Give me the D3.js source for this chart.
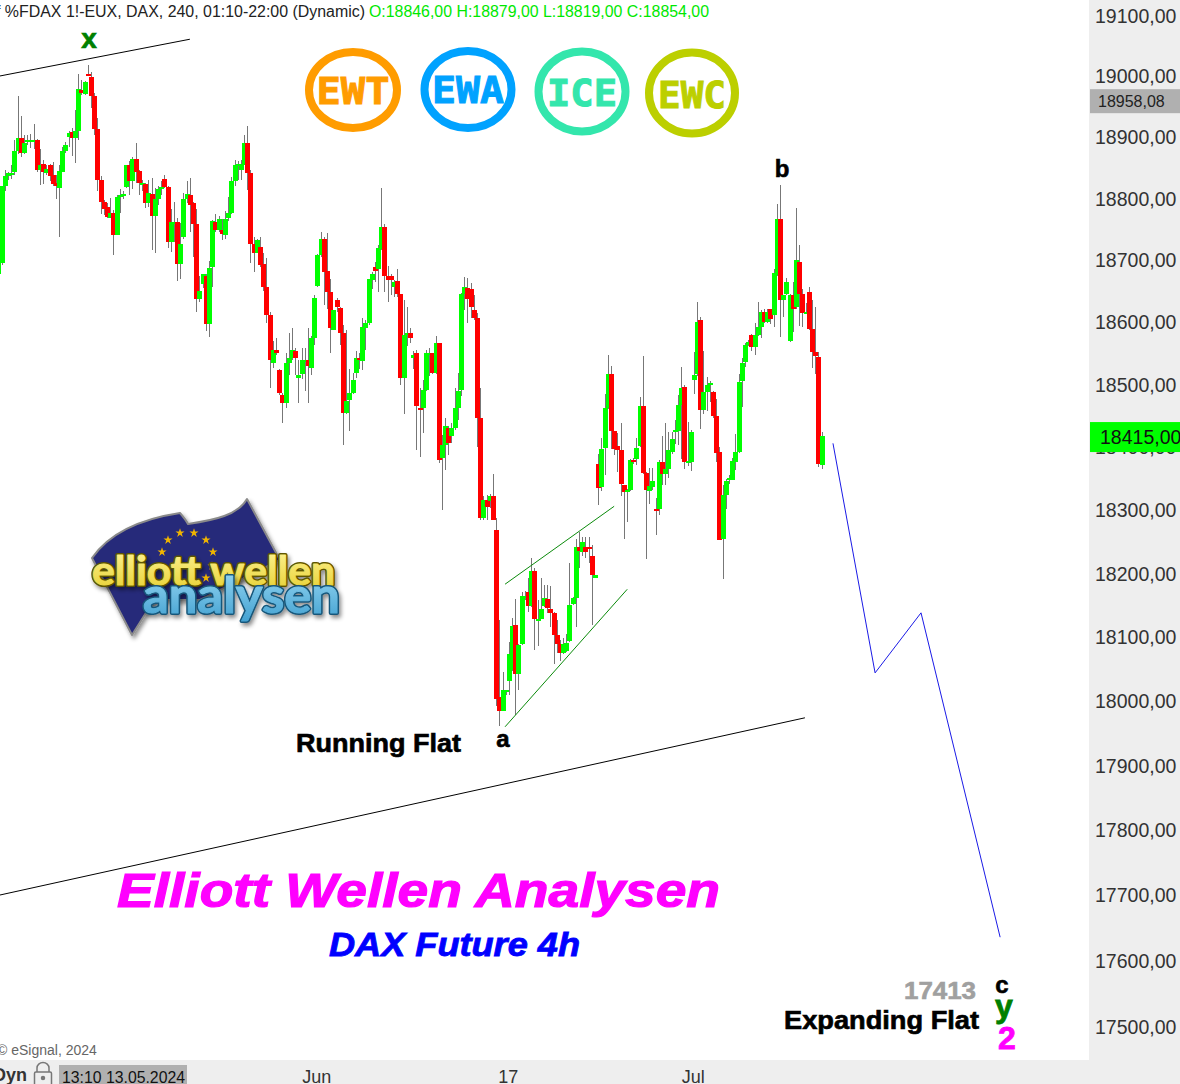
<!DOCTYPE html>
<html>
<head>
<meta charset="utf-8">
<title>DAX Future 4h</title>
<script src="https://cdn.jsdelivr.net/npm/d3@7"></script>
<style>
  html, body { margin: 0; padding: 0; background: #fff; overflow: hidden; }
  svg { display: block; }
  text { font-family: "Liberation Sans", Arial, sans-serif; }
  .bold { font-weight: bold; }
</style>
</head>
<body>
<svg id="chart" width="1180" height="1084"></svg>
<script>
// 4h candles, one column per session, first one is clipped by the left edge
const opens = [18677,
  18695,18819,18835,18838,18843,18876,18898,18874,18891,18891,
  18892,18895,18846,18856,18841,18854,18837,18824,18816,18843,
  18877,18900,18908,18898,18910,18977,18970,19003,18998,18966,
  18912,18829,18794,18786,18768,18776,18740,18802,18804,18818,
  18854,18827,18864,18844,18822,18823,18792,18807,18771,18799,
  18815,18831,18818,18729,18759,18761,18693,18737,18799,18805,
  18792,18758,18637,18660,18674,18596,18688,18761,18748,18748,
  18740,18768,18776,18828,18852,18846,18854,18890,18840,18725,
  18710,18720,18693,18656,18611,18534,18555,18522,18482,18469,
  18534,18541,18552,18510,18515,18536,18538,18526,18573,18657,
  18707,18734,18681,18648,18587,18634,18622,18581,18453,18474,
  18485,18518,18541,18536,18590,18597,18667,18688,18685,18717,
  18752,18673,18673,18656,18665,18645,18509,18578,18582,18542,
  18549,18462,18461,18490,18547,18549,18518,18565,18381,18402,
  18430,18416,18429,18462,18490,18645,18654,18653,18619,18606,
  18445,18287,18315,18314,18322,18267,18005,17984,18013,18030,
  18047,18118,18042,18088,18161,18170,18148,18202,18125,18128,
  18147,18158,18143,18137,18102,18088,18074,18077,18093,18151,
  18161,18240,18233,18240,18240,18226,18192,18372,18336,18398,
  18461,18516,18424,18401,18394,18338,18327,18331,18379,18380,
  18401,18465,18358,18329,18335,18300,18300,18375,18356,18364,
  18391,18423,18425,18466,18495,18374,18375,18506,18516,18602,
  18458,18487,18498,18487,18449,18391,18254,18323,18347,18347,
  18375,18391,18505,18535,18563,18578,18559,18578,18592,18615,
  18599,18620,18610,18675,18765,18635,18645,18568,18643,18623,
  18696,18645,18613,18648,18588,18551,18543,18371];
const highs = [18696,
  18819,18845,18843,18854,18895,18967,18933,18903,18902,18905,
  18920,18896,18880,18862,18853,18856,18859,18838,18853,18883,
  18891,18910,18914,18944,19003,18993,18992,19018,19006,18971,
  18931,18836,18797,18791,18800,18780,18804,18815,18811,18854,
  18860,18867,18889,18846,18830,18824,18830,18833,18816,18819,
  18827,18838,18820,18782,18793,18767,18759,18808,18827,18833,
  18794,18782,18674,18677,18677,18697,18764,18774,18770,18765,
  18778,18801,18834,18862,18860,18862,18902,18917,18846,18737,
  18734,18737,18710,18702,18615,18569,18574,18524,18486,18550,
  18582,18589,18558,18539,18558,18557,18590,18576,18643,18709,
  18745,18736,18743,18668,18619,18638,18624,18595,18586,18523,
  18517,18552,18550,18605,18603,18669,18680,18696,18723,18816,
  18758,18689,18677,18667,18685,18645,18634,18624,18590,18552,
  18554,18494,18506,18555,18557,18550,18576,18566,18419,18446,
  18433,18437,18493,18517,18646,18672,18670,18662,18643,18614,
  18494,18322,18323,18325,18357,18287,18126,18044,18017,18092,
  18129,18159,18088,18170,18171,18191,18224,18207,18157,18191,
  18181,18181,18179,18138,18126,18094,18097,18104,18215,18162,
  18254,18264,18256,18256,18256,18243,18196,18388,18413,18484,
  18546,18529,18425,18422,18437,18339,18333,18380,18382,18414,
  18479,18544,18359,18366,18366,18318,18379,18416,18438,18423,
  18423,18442,18482,18527,18498,18439,18426,18551,18632,18607,
  18552,18511,18505,18489,18476,18399,18338,18348,18354,18381,
  18420,18516,18541,18566,18570,18580,18598,18631,18618,18621,
  18620,18621,18685,18790,18821,18643,18671,18645,18664,18784,
  18723,18653,18630,18656,18635,18624,18551,18423];
const lows = [18670,
  18691,18812,18830,18831,18838,18871,18867,18871,18887,18882,
  18879,18843,18821,18823,18838,18827,18820,18799,18737,18842,
  18873,18883,18868,18857,18894,18969,18969,18999,18947,18903,
  18811,18774,18773,18767,18767,18707,18740,18776,18799,18816,
  18805,18815,18825,18805,18812,18784,18785,18715,18711,18789,
  18805,18816,18718,18713,18729,18665,18669,18734,18792,18745,
  18704,18616,18631,18654,18585,18575,18655,18745,18744,18732,
  18734,18762,18774,18819,18830,18829,18853,18813,18694,18680,
  18710,18688,18650,18598,18493,18525,18547,18482,18437,18461,
  18514,18539,18514,18470,18507,18488,18470,18514,18562,18655,
  18704,18627,18621,18550,18586,18616,18563,18403,18451,18424,
  18483,18510,18523,18522,18554,18595,18653,18664,18647,18715,
  18648,18632,18643,18640,18640,18498,18451,18560,18566,18523,
  18394,18384,18422,18489,18513,18515,18515,18374,18299,18362,
  18387,18406,18427,18442,18481,18619,18598,18606,18603,18399,
  18283,18283,18283,18302,18283,17992,17960,17983,18009,18009,
  18046,17978,18017,18087,18157,18139,18146,18079,18085,18127,
  18146,18136,18115,18057,18074,18061,18072,18076,18091,18150,
  18115,18207,18227,18223,18215,18118,18192,18307,18330,18355,
  18459,18396,18387,18359,18322,18254,18280,18330,18372,18370,
  18399,18357,18222,18308,18331,18260,18292,18338,18338,18350,
  18388,18404,18402,18380,18364,18369,18361,18484,18513,18428,
  18452,18457,18471,18446,18375,18251,18190,18301,18340,18346,
  18363,18390,18463,18527,18561,18552,18546,18577,18574,18597,
  18597,18596,18592,18673,18575,18607,18643,18567,18583,18621,
  18593,18592,18612,18587,18525,18516,18367,18364];
const closes = [18694,
  18819,18836,18840,18841,18876,18898,18874,18890,18895,18895,
  18895,18846,18854,18842,18847,18835,18823,18819,18844,18877,
  18886,18906,18898,18910,18978,18971,18990,19000,18966,18912,
  18829,18794,18782,18769,18775,18740,18802,18805,18806,18853,
  18827,18864,18843,18824,18825,18792,18808,18771,18799,18815,
  18818,18818,18729,18761,18761,18693,18725,18799,18807,18789,
  18758,18637,18650,18676,18596,18686,18762,18748,18766,18741,
  18766,18776,18828,18853,18856,18856,18889,18840,18725,18710,
  18732,18691,18656,18610,18538,18554,18550,18485,18469,18533,
  18542,18554,18541,18514,18538,18538,18528,18574,18638,18707,
  18733,18680,18648,18590,18618,18624,18582,18454,18472,18485,
  18506,18541,18538,18592,18598,18669,18677,18681,18718,18752,
  18673,18667,18667,18664,18645,18510,18578,18582,18574,18546,
  18464,18459,18490,18549,18550,18518,18566,18379,18402,18432,
  18406,18430,18461,18488,18645,18656,18637,18624,18606,18445,
  18287,18315,18304,18322,18284,18002,17984,18016,18016,18072,
  18117,18042,18087,18164,18164,18148,18203,18128,18128,18143,
  18161,18145,18136,18102,18088,18074,18088,18090,18150,18161,
  18240,18235,18249,18232,18237,18196,18196,18334,18396,18461,
  18516,18424,18396,18394,18341,18327,18331,18379,18375,18398,
  18465,18358,18331,18337,18345,18299,18375,18356,18364,18394,
  18412,18426,18466,18493,18375,18377,18423,18514,18600,18458,
  18487,18498,18501,18449,18390,18252,18323,18345,18350,18377,
  18391,18503,18533,18562,18567,18559,18578,18592,18615,18599,
  18615,18604,18679,18765,18635,18643,18664,18643,18621,18699,
  18645,18613,18616,18588,18551,18545,18372,18417];

// price axis and time axis
const priceTicks = [19100,19000,18900,18800,18700,18600,18500,18400,18300,18200,18100,18000,17900,17800,17700,17600,17500];
const timeTickIndex = [99, 159, 217];
const timeTickLabels = ['Jun', '17', 'Jul'];

// drawn trend lines and the projected path, as [session index, price]
const upperTrend = [[-1, 18999], [59, 19060]];
const lowerTrend = [[-1, 17699], [251.8, 17973]];
const channelTop = [[157.8, 18182], [192, 18305]];
const channelBottom = [[157.8, 17959], [196.1, 18174]];
const projection = [[260.6, 18405], [273.8, 18043], [288.2, 18137], [313, 17635]];

const lastPrice = 18415;
const avgPrice = 18958.08;

// badges top centre
const badgeNames = ['EWT', 'EWA', 'ICE', 'EWC'];
const badgeColors = ['#ff9c00', '#00a2ff', '#33e6ac', '#bccf00'];

const width = 1180, height = 1084;
const axisLeft = 1089, footerTop = 1060;

const svg = d3.select('#chart');

const x = d3.scaleLinear().domain([0, 257]).range([1.67, 821.5]);
const y = d3.scaleLog().domain([17500, 19100]).range([1026, 15]);

const candles = d3.range(opens.length).map(function (i) {
    return {i: i - 1, o: opens[i], h: highs[i], l: lows[i], c: closes[i]};
});

const lineGen = d3.line()
    .x(function (d) { return x(d[0]); })
    .y(function (d) { return y(d[1]); });

// logo sits under everything else
drawLogo();

// wicks first so the bodies cover them
svg.append('g').selectAll('line')
    .data(candles)
    .enter().append('line')
    .attr('x1', function (d) { return Math.round(x(d.i)) + 0.5; })
    .attr('x2', function (d) { return Math.round(x(d.i)) + 0.5; })
    .attr('y1', function (d) { return Math.round(y(d.h)); })
    .attr('y2', function (d) { return Math.round(y(d.l)); })
    .attr('stroke', '#777')
    .attr('stroke-width', 1)
    .attr('shape-rendering', 'crispEdges');

svg.append('g').selectAll('rect')
    .data(candles)
    .enter().append('rect')
    .attr('x', function (d) { return Math.round(x(d.i)) - 2; })
    .attr('width', 5)
    .attr('y', function (d) { return Math.round(y(Math.max(d.o, d.c))); })
    .attr('height', function (d) { return Math.max(2, Math.round(y(Math.min(d.o, d.c))) - Math.round(y(Math.max(d.o, d.c)))); })
    .attr('fill', function (d) { return d.c >= d.o ? '#00ff00' : '#ff0000'; })
    .attr('shape-rendering', 'crispEdges');

// trend lines
[[upperTrend, '#000'], [lowerTrend, '#000'], [channelTop, '#0a8a0a'], [channelBottom, '#0a8a0a'], [projection, '#1a1ae6']].forEach(function (l) {
    svg.append('path')
        .attr('d', lineGen(l[0]))
        .attr('fill', 'none')
        .attr('stroke', l[1])
        .attr('stroke-width', 1);
});

drawBadges();

// right and bottom panels
svg.append('rect').attr('x', axisLeft).attr('y', 0).attr('width', width - axisLeft).attr('height', height).attr('fill', '#eeeeee');
svg.append('rect').attr('x', 0).attr('y', footerTop).attr('width', width).attr('height', height - footerTop).attr('fill', '#eeeeee');

const yAxis = d3.axisRight(y)
    .tickValues(priceTicks)
    .tickSize(0)
    .tickPadding(0)
    .tickFormat(function (d) { return d + ',00'; });

svg.append('g')
    .attr('transform', 'translate(1095,1)')
    .call(yAxis)
    .call(function (g) { g.select('.domain').remove(); })
    .selectAll('text')
    .attr('font-family', '"Liberation Sans", Arial, sans-serif')
    .attr('font-size', 19.5)
    .attr('fill', '#333');

const xAxis = d3.axisBottom(x)
    .tickValues(timeTickIndex)
    .tickSize(0)
    .tickPadding(0)
    .tickFormat(function (d, i) { return timeTickLabels[i]; });

svg.append('g')
    .attr('transform', 'translate(-1.2,1070)')
    .call(xAxis)
    .call(function (g) { g.select('.domain').remove(); })
    .selectAll('text')
    .attr('font-family', '"Liberation Sans", Arial, sans-serif')
    .attr('font-size', 18)
    .attr('fill', '#333');

// price flags on the axis
svg.append('rect').attr('x', 1090).attr('y', y(avgPrice) - 12).attr('width', 90).attr('height', 24).attr('fill', '#b0b0b0');
svg.append('text').attr('x', 1098).attr('y', y(avgPrice) + 6).attr('font-size', 16).attr('fill', '#222')
    .text(d3.format('.2f')(avgPrice).replace('.', ','));

svg.append('rect').attr('x', 1090).attr('y', y(lastPrice) - 15).attr('width', 90).attr('height', 30).attr('fill', '#00ff00');
svg.append('text').attr('x', 1100).attr('y', y(lastPrice) + 7).attr('font-size', 19.5).attr('fill', '#111')
    .text(lastPrice + ',00');

// header line
svg.append('text').attr('x', -4).attr('y', 17).attr('font-size', 16).attr('fill', '#222')
    .attr('textLength', 369).attr('lengthAdjust', 'spacingAndGlyphs')
    .text('f %FDAX 1!-EUX, DAX, 240, 01:10-22:00 (Dynamic)');
svg.append('text').attr('x', 369).attr('y', 17).attr('font-size', 16).attr('fill', '#00e800')
    .attr('textLength', 340).attr('lengthAdjust', 'spacingAndGlyphs')
    .text('O:18846,00 H:18879,00 L:18819,00 C:18854,00');

// wave labels and captions, heavy face faked with a thin outline
function label(txt, px, py, size, color, opts) {
    opts = opts || {};
    const t = svg.append('text')
        .attr('class', 'bold')
        .attr('x', px).attr('y', py)
        .attr('font-size', size)
        .attr('fill', color)
        .attr('stroke', color)
        .attr('stroke-width', opts.heavy === undefined ? size / 40 : opts.heavy)
        .attr('text-anchor', opts.anchor || 'middle')
        .attr('font-style', opts.italic ? 'italic' : 'normal')
        .text(txt);
    if (opts.len) {
        t.attr('textLength', opts.len).attr('lengthAdjust', 'spacingAndGlyphs');
    }
    return t;
}
label('x', 89, 48, 28, '#008000');
label('b', 782, 177, 24, '#000');
label('a', 503, 747, 24, '#000');
label('Running Flat', 296, 752, 26, '#000', {anchor: 'start', len: 165});
label('Elliott Wellen Analysen', 117, 907, 48, '#ff00ff', {anchor: 'start', italic: true, len: 603});
label('DAX Future 4h', 329, 956, 34, '#0000ff', {anchor: 'start', italic: true, len: 251});
label('17413', 904, 999, 24, '#a0a0a0', {anchor: 'start', len: 72});
label('Expanding Flat', 784, 1029, 26, '#000', {anchor: 'start', len: 195});
label('c', 1002, 993, 24, '#000');
label('y', 1004, 1017, 32, '#008000');
label('2', 1007, 1049, 32, '#ff00ff');

// footer
svg.append('text').attr('x', -3).attr('y', 1055).attr('font-size', 14).attr('fill', '#666').text('© eSignal, 2024');
svg.append('text').attr('x', -7).attr('y', 1081).attr('font-size', 18).attr('font-weight', 'bold').attr('fill', '#333').text('Dyn');
svg.append('rect').attr('x', 59).attr('y', 1065).attr('width', 128).attr('height', 19).attr('fill', '#b0b0b0');
svg.append('text').attr('x', 62).attr('y', 1083).attr('font-size', 16).attr('fill', '#111')
    .attr('textLength', 123).attr('lengthAdjust', 'spacingAndGlyphs').text('13:10 13.05.2024');

const lock = svg.append('g').attr('fill', 'none').attr('stroke', '#777').attr('stroke-width', 1.5);
lock.append('path').attr('d', 'M37,1072 v-4 a6,5.5 0 0 1 12,0 v4');
lock.append('rect').attr('x', 34.5).attr('y', 1072).attr('width', 17).attr('height', 14).attr('rx', 1.5);
lock.append('circle').attr('cx', 43).attr('cy', 1078).attr('r', 1.5).attr('fill', '#777');

function drawBadges() {
    const cx = [353, 468, 582, 692], cy = [90, 89.5, 91.5, 93];
    const rx = [44, 43.5, 43.5, 43], ry = [38, 38.5, 40, 40.5];
    const tw = [73, 72, 70, 68], baseY = [104, 103, 106, 108];
    badgeNames.forEach(function (name, i) {
        svg.append('ellipse')
            .attr('cx', cx[i]).attr('cy', cy[i]).attr('rx', rx[i]).attr('ry', ry[i])
            .attr('fill', 'none').attr('stroke', badgeColors[i]).attr('stroke-width', 8);
        svg.append('text')
            .attr('x', cx[i] - tw[i] / 2).attr('y', baseY[i])
            .style('font-family', '"DejaVu Sans Mono", monospace')
            .attr('font-weight', 'bold')
            .attr('font-size', 38)
            .attr('textLength', tw[i])
            .attr('lengthAdjust', 'spacingAndGlyphs')
            .attr('fill', badgeColors[i])
            .attr('stroke', badgeColors[i])
            .attr('stroke-width', 1)
            .text(name);
    });
}

function drawLogo() {
    const defs = svg.append('defs');
    const shadow = defs.append('filter').attr('id', 'logoShadow').attr('x', '-10%').attr('y', '-10%').attr('width', '120%').attr('height', '130%');
    shadow.append('feDropShadow').attr('dx', 2).attr('dy', 3).attr('stdDeviation', 2).attr('flood-color', '#000').attr('flood-opacity', 0.45);

    const yellow = defs.append('linearGradient').attr('id', 'logoYellow').attr('x1', 0).attr('y1', 0).attr('x2', 0).attr('y2', 1);
    yellow.append('stop').attr('offset', '0%').attr('stop-color', '#fff59a');
    yellow.append('stop').attr('offset', '100%').attr('stop-color', '#e6cf2e');
    const blue = defs.append('linearGradient').attr('id', 'logoBlue').attr('x1', 0).attr('y1', 0).attr('x2', 0).attr('y2', 1);
    blue.append('stop').attr('offset', '0%').attr('stop-color', '#9fdcf5');
    blue.append('stop').attr('offset', '100%').attr('stop-color', '#3f9fd0');

    const g = svg.append('g');
    g.append('path')
        .attr('d', 'M92,558 C115,525 160,516 180,513 Q186,520 188,524 C215,520 238,515 247,499 L280,560 L200,600 L154,600 L132,635 Z')
        .attr('fill', '#26297a')
        .attr('stroke', '#8a8a8a')
        .attr('stroke-width', 2)
        .attr('stroke-linejoin', 'round')
        .attr('filter', 'url(#logoShadow)');

    // ring of stars on the flag
    const starCx = [168, 180, 194, 206, 213, 212, 206, 162];
    const starCy = [540, 533, 533, 540, 552, 566, 578, 552];
    const star = d3.symbol().type(d3.symbolStar).size(26);
    g.selectAll('.star').data(starCx).enter().append('path')
        .attr('d', star)
        .attr('transform', function (d, i) { return 'translate(' + d + ',' + starCy[i] + ')'; })
        .attr('fill', '#f0b400');

    // two passes so the letters read as outlined tubes
    [['elliott wellen', 92, 585, 40, 243, '#5f5500', 'url(#logoYellow)'],
     ['analysen', 143, 613, 50, 197, '#17577a', 'url(#logoBlue)']].forEach(function (w) {
        const base = function () {
            return g.append('text')
                .attr('x', w[1]).attr('y', w[2])
                .style('font-family', 'Lato, sans-serif')
                .attr('font-weight', 'bold').attr('font-size', w[3])
                .attr('textLength', w[4]).attr('lengthAdjust', 'spacingAndGlyphs')
                .attr('stroke-linejoin', 'round')
                .text(w[0]);
        };
        base().attr('fill', w[5]).attr('stroke', w[5]).attr('stroke-width', 4).attr('filter', 'url(#logoShadow)');
        base().attr('fill', w[6]).attr('stroke', w[6]).attr('stroke-width', 1);
    });
}
</script>
</body>
</html>
